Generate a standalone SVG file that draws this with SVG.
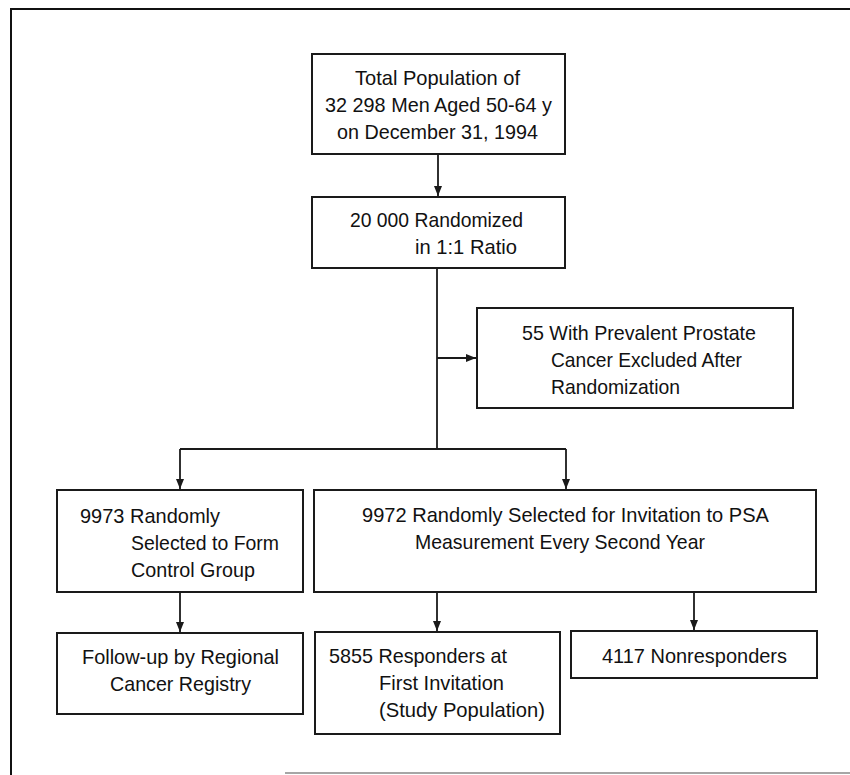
<svg xmlns="http://www.w3.org/2000/svg" width="850" height="775" viewBox="0 0 850 775">
<style>
.box{fill:#fff;stroke:#1a1a1a;stroke-width:2}
.t{font-family:"Liberation Sans Narrow","Liberation Sans",Arial,sans-serif;font-size:21px;fill:#111}
.c{fill:none;stroke:#1a1a1a;stroke-width:1.8}
.frame{fill:none;stroke:#111;stroke-width:2}
</style>
<defs>
<marker id="ah" markerUnits="userSpaceOnUse" markerWidth="10" markerHeight="10" refX="10" refY="4" orient="auto">
<path d="M0,0 L10,4 L0,8 z" fill="#1a1a1a"/>
</marker>
</defs>
<rect width="850" height="775" fill="#fff"/>
<g id="frame">
<path class="frame" d="M11,775 L11,9 L850,9"/>
<path d="M285,773 L850,773" fill="none" stroke="#888" stroke-width="1.5"/>
</g>
<g id="connectors">
<path class="c" d="M438,154 L438,196" marker-end="url(#ah)"/>
<path class="c" d="M437,268 L437,449"/>
<path class="c" d="M437,358 L476,358" marker-end="url(#ah)"/>
<path class="c" d="M180,449 L566,449"/>
<path class="c" d="M180,449 L180,489" marker-end="url(#ah)"/>
<path class="c" d="M566,449 L566,489" marker-end="url(#ah)"/>
<path class="c" d="M180,592 L180,632" marker-end="url(#ah)"/>
<path class="c" d="M437,592 L437,631" marker-end="url(#ah)"/>
<path class="c" d="M694,592 L694,630" marker-end="url(#ah)"/>
</g>
<g id="n1">
<rect class="box" x="312" y="54" width="253" height="100"/>
<text class="t" x="355" y="85" textLength="165" lengthAdjust="spacingAndGlyphs">Total Population of</text>
<text class="t" x="325" y="112" textLength="227" lengthAdjust="spacingAndGlyphs">32 298 Men Aged 50-64 y</text>
<text class="t" x="337" y="139" textLength="201" lengthAdjust="spacingAndGlyphs">on December 31, 1994</text>
</g>
<g id="n2">
<rect class="box" x="312" y="197" width="253" height="71"/>
<text class="t" x="350" y="227" textLength="173" lengthAdjust="spacingAndGlyphs">20 000 Randomized</text>
<text class="t" x="415" y="254" textLength="102" lengthAdjust="spacingAndGlyphs">in 1:1 Ratio</text>
</g>
<g id="n3">
<rect class="box" x="477" y="308" width="316" height="100"/>
<text class="t" x="522" y="340" textLength="234" lengthAdjust="spacingAndGlyphs">55 With Prevalent Prostate</text>
<text class="t" x="551" y="367" textLength="191" lengthAdjust="spacingAndGlyphs">Cancer Excluded After</text>
<text class="t" x="551" y="394" textLength="129" lengthAdjust="spacingAndGlyphs">Randomization</text>
</g>
<g id="n4">
<rect class="box" x="57" y="490" width="246" height="102"/>
<text class="t" x="80" y="523" textLength="140" lengthAdjust="spacingAndGlyphs">9973 Randomly</text>
<text class="t" x="131" y="550" textLength="148" lengthAdjust="spacingAndGlyphs">Selected to Form</text>
<text class="t" x="131" y="577" textLength="124" lengthAdjust="spacingAndGlyphs">Control Group</text>
</g>
<g id="n5">
<rect class="box" x="314" y="490" width="502" height="102"/>
<text class="t" x="362" y="522" textLength="407" lengthAdjust="spacingAndGlyphs">9972 Randomly Selected for Invitation to PSA</text>
<text class="t" x="415" y="549" textLength="290" lengthAdjust="spacingAndGlyphs">Measurement Every Second Year</text>
</g>
<g id="n6">
<rect class="box" x="57" y="633" width="246" height="81"/>
<text class="t" x="82" y="664" textLength="197" lengthAdjust="spacingAndGlyphs">Follow-up by Regional</text>
<text class="t" x="110" y="691" textLength="141" lengthAdjust="spacingAndGlyphs">Cancer Registry</text>
</g>
<g id="n7">
<rect class="box" x="315" y="632" width="245" height="102"/>
<text class="t" x="329" y="663" textLength="178" lengthAdjust="spacingAndGlyphs">5855 Responders at</text>
<text class="t" x="379" y="690" textLength="125" lengthAdjust="spacingAndGlyphs">First Invitation</text>
<text class="t" x="379" y="717" textLength="166" lengthAdjust="spacingAndGlyphs">(Study Population)</text>
</g>
<g id="n8">
<rect class="box" x="571" y="631" width="246" height="47"/>
<text class="t" x="602" y="663" textLength="185" lengthAdjust="spacingAndGlyphs">4117 Nonresponders</text>
</g>
</svg>
